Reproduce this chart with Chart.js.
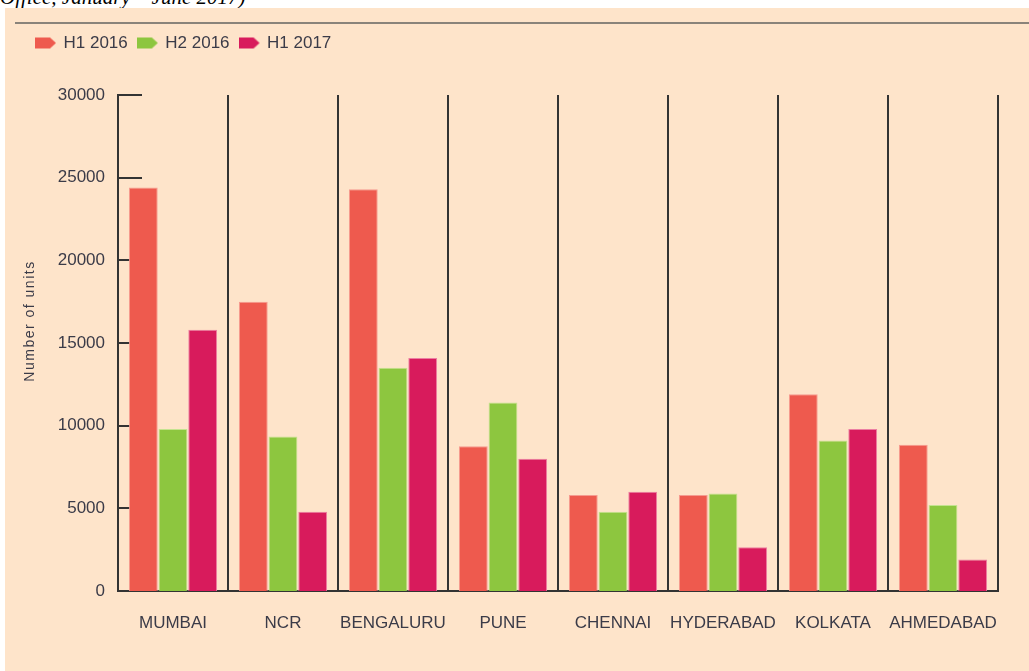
<!DOCTYPE html>
<html>
<head>
<meta charset="utf-8">
<script src="https://cdn.jsdelivr.net/npm/chart.js@4/dist/chart.umd.min.js"></script>
<style>
  html, body { margin: 0; padding: 0; background: #fff; }
  body { width: 1029px; height: 671px; position: relative; overflow: hidden; }
  #caption {
    position: absolute; left: 0; top: -13px;
    font: italic 21px "Liberation Serif", "Times New Roman", serif;
    line-height: 20px; color: #000; white-space: nowrap;
  }
  #panel {
    position: absolute; left: 5px; top: 8px; width: 1024px; height: 663px;
    background: #fee4ca;
  }
  #rule {
    position: absolute; left: 10px; right: 0; top: 14px; height: 2px;
    background: #8a837a;
  }
  #chart { position: absolute; left: 0; top: 0; }
</style>
</head>
<body>
<div id="caption">Office, January – June 2017)</div>
<div id="panel">
  <div id="rule"></div>
  <canvas id="chart" width="1024" height="663"></canvas>
</div>
<script>
// cities on the x axis
const cities = ['MUMBAI', 'NCR', 'BENGALURU', 'PUNE', 'CHENNAI', 'HYDERABAD', 'KOLKATA', 'AHMEDABAD'];
// number of units per half year
const h1_2016 = [24400, 17500, 24300, 8750, 5800, 5800, 11900, 8850];
const h2_2016 = [9800, 9350, 13500, 11400, 4800, 5900, 9100, 5200];
const h1_2017 = [15800, 4800, 14100, 8000, 6000, 2650, 9800, 1900];
// y axis range
const yTicks = [0, 5000, 10000, 15000, 20000, 25000, 30000];
const yTitle = 'Number of units';

const textColor = '#3b3b48';
const lineColor = '#333333';

// tag-shaped legend marker
function tagIcon(color) {
    const c = document.createElement('canvas');
    c.width = 22;
    c.height = 13;
    const g = c.getContext('2d');
    g.fillStyle = color;
    g.beginPath();
    g.moveTo(0, 1);
    g.lineTo(15, 1);
    g.lineTo(21, 6.5);
    g.lineTo(15, 12);
    g.lineTo(0, 12);
    g.closePath();
    g.fill();
    return c;
}

// short inward ticks on the y axis (drawn under the bars)
const innerTicks = {
    id: 'innerTicks',
    beforeDatasetsDraw(chart) {
        const y = chart.scales.y;
        const ctx = chart.ctx;
        const x0 = chart.chartArea.left;
        ctx.save();
        ctx.strokeStyle = lineColor;
        ctx.lineWidth = 2;
        yTicks.forEach(v => {
            if (v === 0) return;
            const py = Math.round(y.getPixelForValue(v));
            ctx.beginPath();
            ctx.moveTo(x0, py);
            ctx.lineTo(x0 + 24, py);
            ctx.stroke();
        });
        ctx.restore();
    }
};

// y axis title, a bit above the middle and loosely spaced like the original
const axisTitle = {
    id: 'axisTitle',
    afterDraw(chart) {
        const ctx = chart.ctx;
        const area = chart.chartArea;
        ctx.save();
        ctx.translate(25, (area.top + area.bottom) / 2 - 22);
        ctx.rotate(-Math.PI / 2);
        ctx.font = '14px "Liberation Sans", Arial, sans-serif';
        ctx.letterSpacing = '1.5px';
        ctx.fillStyle = textColor;
        ctx.textAlign = 'center';
        ctx.textBaseline = 'middle';
        ctx.fillText(yTitle, 0, 0);
        ctx.restore();
    }
};

// extra space under the legend
const legendGap = {
    id: 'legendGap',
    beforeInit(chart) {
        const fit = chart.legend.fit;
        chart.legend.fit = function () {
            fit.bind(chart.legend)();
            this.height += 33.5;
        };
    }
};

Chart.defaults.font.family = '"Liberation Sans", Arial, sans-serif';
Chart.defaults.color = textColor;

const series = [
    { label: 'H1 2016', data: h1_2016, color: '#ee5a4e', edge: '#f59b90' },
    { label: 'H2 2016', data: h2_2016, color: '#8dc63f', edge: '#c4e38f' },
    { label: 'H1 2017', data: h1_2017, color: '#d81b5c', edge: '#ec7ea2' },
];

new Chart(document.getElementById('chart'), {
    type: 'bar',
    data: {
        labels: cities,
        datasets: series.map(s => ({
            label: s.label,
            data: s.data,
            backgroundColor: s.color,
            borderColor: s.edge,
            borderWidth: 1,
            pointStyle: tagIcon(s.color),
            categoryPercentage: 0.81,
            barPercentage: 0.97,
        }))
    },
    options: {
        responsive: false,
        animation: false,
        layout: {
            padding: { left: 21, right: 31, top: 15.5, bottom: 0 }
        },
        plugins: {
            legend: {
                position: 'top',
                align: 'start',
                labels: {
                    usePointStyle: true,
                    pointStyleWidth: 18,
                    padding: 11,
                    color: textColor,
                    font: { size: 17 },
                }
            },
            tooltip: { enabled: false },
        },
        scales: {
            x: {
                grid: {
                    offset: true,
                    color: lineColor,
                    lineWidth: 2,
                    drawTicks: false,
                },
                border: { display: true, color: lineColor, width: 2 },
                ticks: {
                    padding: 22,
                    font: { size: 17 },
                    color: textColor,
                    maxRotation: 0,
                    autoSkip: false,
                },
                afterFit(scale) {
                    scale.height = 80;
                }
            },
            y: {
                min: 0,
                max: 30000,
                ticks: {
                    stepSize: 5000,
                    padding: 13,
                    font: { size: 17 },
                    color: textColor,
                    callback: v => String(v),
                },
                grid: { display: false, drawTicks: false },
                border: { display: true, color: lineColor, width: 2 },
                afterFit(scale) {
                    scale.width = 92;
                }
            }
        }
    },
    plugins: [innerTicks, axisTitle, legendGap]
});
</script>
</body>
</html>
